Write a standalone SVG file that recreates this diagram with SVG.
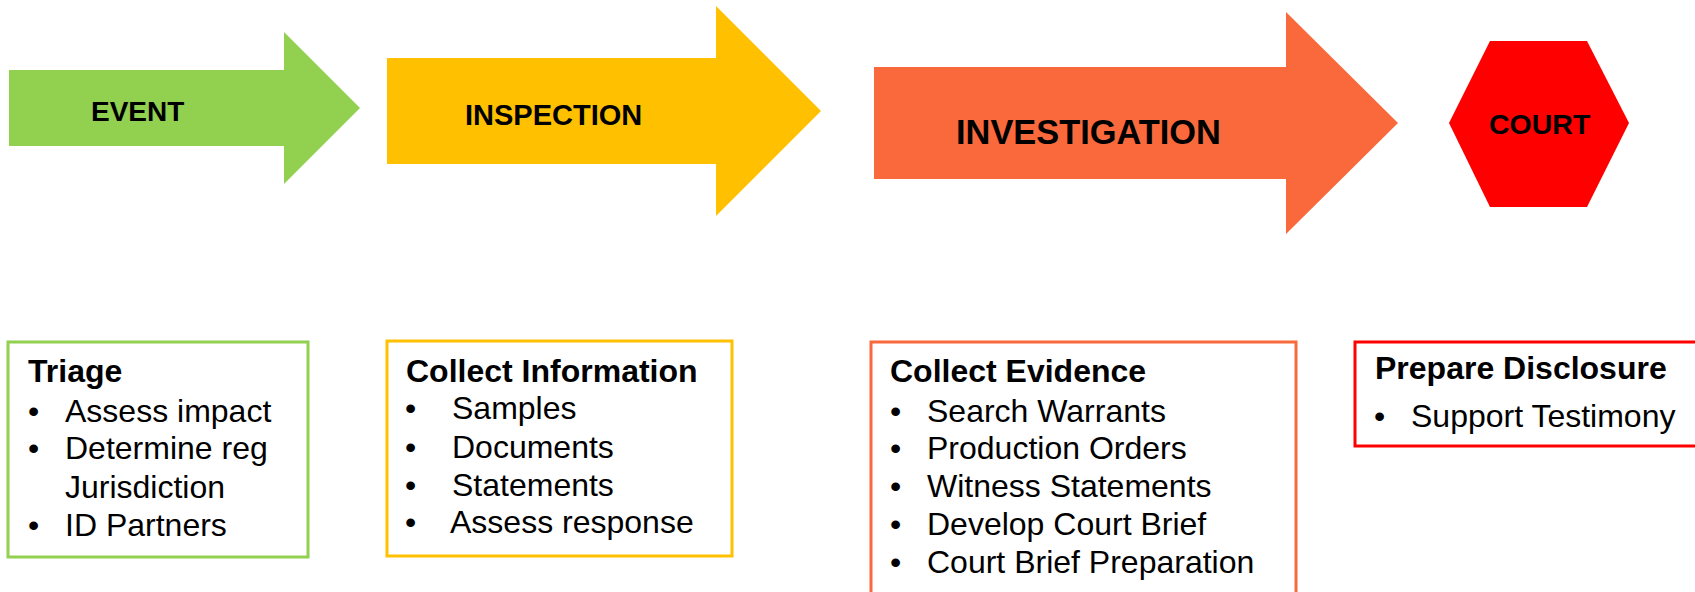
<svg xmlns="http://www.w3.org/2000/svg" width="1695" height="592" viewBox="0 0 1695 592">
<style>
text{font-family:"Liberation Sans",Arial,sans-serif;fill:#000}
.lbl{font-weight:bold}
.hd{font-weight:bold;font-size:32px}
.bl{font-size:32px}
.box{fill:#fff;stroke-width:3}
</style>
<rect width="1695" height="592" fill="#fff"/>
<g id="event">
<polygon points="9,70 284,70 284,32 360,108 284,184 284,146 9,146" fill="#92D050"/>
<text class="lbl" x="91" y="121" font-size="28">EVENT</text>
</g>
<g id="inspection">
<polygon points="387,58 716,58 716,6 821,111 716,216 716,164 387,164" fill="#FFC000"/>
<text class="lbl" x="465" y="125" font-size="29">INSPECTION</text>
</g>
<g id="investigation">
<polygon points="874,67 1286,67 1286,12 1398,123 1286,234 1286,179 874,179" fill="#F9693B"/>
<text class="lbl" x="956" y="144" font-size="34.4">INVESTIGATION</text>
</g>
<g id="court">
<polygon points="1490,41 1587,41 1629,123 1587,207 1490,207 1449,123" fill="#FF0000"/>
<text class="lbl" x="1489" y="134" font-size="28.5">COURT</text>
</g>
<g id="triage">
<rect class="box" x="8" y="342" width="300" height="215" stroke="#92D050"/>
<text class="hd" x="28" y="382">Triage</text>
<text class="bl" x="28" y="422">•</text><text class="bl" x="65" y="422">Assess impact</text>
<text class="bl" x="28" y="459">•</text><text class="bl" x="65" y="459">Determine reg</text>
<text class="bl" x="65" y="498">Jurisdiction</text>
<text class="bl" x="28" y="536">•</text><text class="bl" x="65" y="536">ID Partners</text>
</g>
<g id="collect-information">
<rect class="box" x="387" y="341" width="345" height="215" stroke="#FFC000"/>
<text class="hd" x="406" y="382">Collect Information</text>
<text class="bl" x="405" y="419">•</text><text class="bl" x="452" y="419">Samples</text>
<text class="bl" x="405" y="458">•</text><text class="bl" x="452" y="458">Documents</text>
<text class="bl" x="405" y="496">•</text><text class="bl" x="452" y="496">Statements</text>
<text class="bl" x="405" y="533">•</text><text class="bl" x="450" y="533">Assess response</text>
</g>
<g id="collect-evidence">
<rect class="box" x="871" y="342" width="425" height="270" stroke="#F9693B"/>
<text class="hd" x="890" y="382">Collect Evidence</text>
<text class="bl" x="890" y="422">•</text><text class="bl" x="927" y="422">Search Warrants</text>
<text class="bl" x="890" y="459">•</text><text class="bl" x="927" y="459">Production Orders</text>
<text class="bl" x="890" y="497">•</text><text class="bl" x="927" y="497">Witness Statements</text>
<text class="bl" x="890" y="535">•</text><text class="bl" x="927" y="535">Develop Court Brief</text>
<text class="bl" x="890" y="573">•</text><text class="bl" x="927" y="573">Court Brief Preparation</text>
</g>
<g id="prepare-disclosure">
<rect class="box" x="1355" y="342" width="360" height="104" stroke="#FF0000"/>
<text class="hd" x="1375" y="379">Prepare Disclosure</text>
<text class="bl" x="1374" y="427">•</text><text class="bl" x="1411" y="427">Support Testimony</text>
</g>
<g id="connectors"></g>
</svg>
